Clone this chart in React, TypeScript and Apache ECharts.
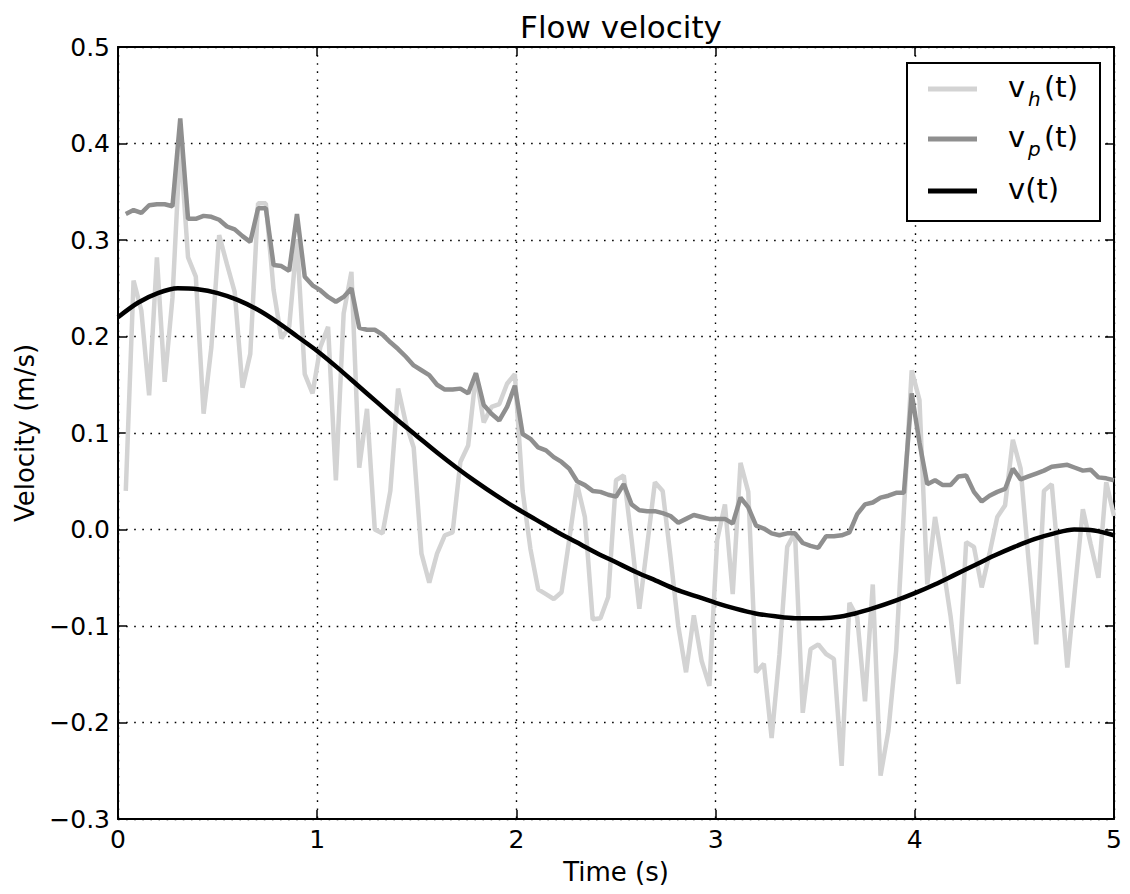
import React, { useEffect, useRef } from "react";
import * as echarts from "echarts";

// Sample times for the measured series: k * 5/128, k = 1..128
const N_SAMPLES = 128;
const T_END = 5;
const SAMPLE_T = Array.from({ length: N_SAMPLES }, (_, i) => ((i + 1) * T_END) / N_SAMPLES);

// v_h(t) – light gray, noisy
const VH = [
  0.040, 0.258, 0.227, 0.139, 0.282, 0.153, 0.24, 0.40, 0.282, 0.262,
  0.120, 0.189, 0.305, 0.275, 0.246, 0.147, 0.182, 0.338, 0.338, 0.248,
  0.198, 0.21, 0.30, 0.161, 0.141, 0.189, 0.21, 0.051, 0.224, 0.267,
  0.064, 0.125, 0.0, -0.004, 0.04, 0.146, 0.11, 0.085, -0.025, -0.055,
  -0.025, -0.006, -0.003, 0.070, 0.087, 0.161, 0.111, 0.127, 0.13, 0.151,
  0.161, 0.04, -0.02, -0.062, -0.067, -0.072, -0.065, -0.01, 0.047, 0.013,
  -0.093, -0.092, -0.07, 0.051, 0.056, -0.01, -0.082, -0.017, 0.049, 0.040,
  -0.028, -0.1, -0.148, -0.089, -0.136, -0.162, -0.011, 0.026, -0.067, 0.069,
  0.039, -0.148, -0.139, -0.216, -0.13, -0.018, -0.003, -0.19, -0.124, -0.119,
  -0.129, -0.134, -0.245, -0.076, -0.091, -0.178, -0.057, -0.255, -0.209, -0.126,
  0.02, 0.165, 0.134, -0.057, 0.013, -0.036, -0.09, -0.16, -0.013, -0.018,
  -0.06, -0.025, 0.013, 0.025, 0.093, 0.063, -0.03, -0.119, 0.040, 0.047,
  -0.045, -0.143, -0.06, 0.021, -0.015, -0.05, 0.049, 0.014,
];

// v_p(t) – mid gray
const VP = [
  0.327, 0.331, 0.328, 0.336, 0.337, 0.337, 0.335, 0.426, 0.322, 0.322,
  0.325, 0.324, 0.321, 0.314, 0.311, 0.304, 0.298, 0.333, 0.333, 0.274,
  0.273, 0.268, 0.327, 0.262, 0.253, 0.248, 0.241, 0.236, 0.241, 0.250,
  0.209, 0.207, 0.207, 0.202, 0.194, 0.187, 0.179, 0.170, 0.165, 0.160,
  0.150, 0.145, 0.145, 0.146, 0.141, 0.162, 0.129, 0.120, 0.113, 0.127,
  0.149, 0.099, 0.094, 0.085, 0.082, 0.075, 0.07, 0.063, 0.050, 0.046,
  0.040, 0.039, 0.036, 0.034, 0.047, 0.026, 0.020, 0.019, 0.019, 0.017,
  0.014, 0.007, 0.011, 0.015, 0.013, 0.011, 0.011, 0.011, 0.006, 0.033,
  0.023, 0.004, 0.001, -0.004, -0.006, -0.004, -0.004, -0.014, -0.017, -0.019,
  -0.007, -0.007, -0.006, -0.003, 0.016, 0.026, 0.028, 0.033, 0.035, 0.038,
  0.038, 0.141, 0.09, 0.047, 0.051, 0.046, 0.046, 0.055, 0.056, 0.039,
  0.029, 0.035, 0.039, 0.042, 0.063, 0.052, 0.055, 0.058, 0.061, 0.065,
  0.066, 0.067, 0.064, 0.061, 0.062, 0.054, 0.053, 0.051,
];

// v(t) – smooth black curve, read every 0.1 s
const V_T = [
  0, 0.1, 0.2, 0.3, 0.4, 0.5, 0.6, 0.7, 0.8, 0.9,
  1.0, 1.1, 1.2, 1.3, 1.4, 1.5, 1.6, 1.7, 1.8, 1.9,
  2.0, 2.1, 2.2, 2.3, 2.4, 2.5, 2.6, 2.7, 2.8, 2.9,
  3.0, 3.1, 3.2, 3.3, 3.4, 3.5, 3.6, 3.7, 3.8, 3.9,
  4.0, 4.1, 4.2, 4.3, 4.4, 4.5, 4.6, 4.7, 4.8, 4.9, 5.0,
];
const V = [
  0.22, 0.235, 0.245, 0.25, 0.249, 0.245, 0.238, 0.228, 0.215, 0.2,
  0.185, 0.168, 0.15, 0.132, 0.114, 0.097, 0.08, 0.064, 0.049, 0.035,
  0.022, 0.01, -0.002, -0.013, -0.024, -0.034, -0.044, -0.053, -0.062, -0.069,
  -0.076, -0.082, -0.087, -0.09, -0.092, -0.092, -0.091, -0.087, -0.081, -0.074,
  -0.066, -0.057, -0.047, -0.037, -0.027, -0.018, -0.01, -0.004, 0.0, -0.001, -0.006,
];

const SERIES_NAMES = ["v_h(t)", "v_p(t)", "v(t)"];
const SERIES_COLORS = ["#d3d3d3", "#8f8f8f", "#000000"];
// legend label pieces: base, subscript, tail
const LEGEND_BASE = ["v", "v", "v(t)"];
const LEGEND_SUB = ["h", "p", ""];
const LEGEND_TAIL = ["(t)", "(t)", ""];
const X_MIN = 0, X_MAX = 5, X_STEP = 1;
const Y_MIN = -0.3, Y_MAX = 0.5, Y_STEP = 0.1;

const FONT = "DejaVu Sans";

export default function App() {
  const ref = useRef<HTMLDivElement>(null);

  useEffect(() => {
    if (!ref.current) return;
    const chart = echarts.init(ref.current, null, { renderer: "svg" });

    const fmtY = (v: number) => {
      const r = Math.round(v * 10) / 10;
      return (r < 0 ? "\u2212" : "") + Math.abs(r).toFixed(1);
    };

    const gridLine = { show: true, lineStyle: { color: "#000", width: 1.4, type: [1.6, 6.5] as any } };
    const axisLine = { show: true, onZero: false, lineStyle: { color: "#000", width: 2 } };
    const tick = { show: true, inside: true, length: 9, lineStyle: { color: "#000", width: 1.5 } };

    // Legend drawn as graphic elements (box, line samples, labels with subscripts)
    const LEG_X = 907, LEG_Y = 63, LEG_W = 193, LEG_H = 158;
    const rowY = [89, 139, 191];
    const textX = 1008;
    const legendChildren: any[] = [
      {
        type: "rect",
        shape: { x: LEG_X, y: LEG_Y, width: LEG_W, height: LEG_H },
        style: { fill: "#fff", stroke: "#000", lineWidth: 2 },
        z: 100,
      },
    ];
    const mainStyle = { fontFamily: FONT, fontSize: 29, fill: "#000", verticalAlign: "middle", align: "left" };
    SERIES_NAMES.forEach((_, i) => {
      legendChildren.push({
        type: "line",
        shape: { x1: 928, y1: rowY[i], x2: 977, y2: rowY[i] },
        style: { stroke: SERIES_COLORS[i], lineWidth: 5 },
        z: 101,
      });
      legendChildren.push({
        type: "text",
        x: textX,
        y: rowY[i] - 2,
        style: { ...mainStyle, text: LEGEND_BASE[i] },
        z: 101,
      });
      if (LEGEND_SUB[i]) {
        legendChildren.push({
          type: "text",
          x: textX + 20,
          y: rowY[i] + 10,
          style: { fontFamily: FONT, fontSize: 20, fontStyle: "italic", fill: "#000", verticalAlign: "middle", align: "left", text: LEGEND_SUB[i] },
          z: 101,
        });
        legendChildren.push({
          type: "text",
          x: textX + 36,
          y: rowY[i] - 2,
          style: { ...mainStyle, text: LEGEND_TAIL[i] },
          z: 101,
        });
      }
    });

    chart.setOption({
      animation: false,
      backgroundColor: "#fff",
      title: {
        text: "Flow velocity",
        left: 616,
        textAlign: "center",
        top: 6,
        textStyle: { fontFamily: FONT, fontSize: 31, fontWeight: "normal", color: "#000" },
      },
      grid: { left: 118, top: 47, right: 16, bottom: 75, containLabel: false },
      graphic: { elements: [{ type: "group", children: legendChildren }] },
      xAxis: [
        {
          type: "value",
          min: X_MIN,
          max: X_MAX,
          interval: X_STEP,
          position: "bottom",
          name: "Time (s)",
          nameLocation: "middle",
          nameGap: 40,
          nameTextStyle: { fontFamily: FONT, fontSize: 26, color: "#000" },
          axisLine,
          axisTick: tick,
          axisLabel: { fontFamily: FONT, fontSize: 25, color: "#000", margin: 8 },
          splitLine: gridLine,
        },
        {
          type: "value",
          min: X_MIN,
          max: X_MAX,
          interval: X_STEP,
          position: "top",
          axisLine,
          axisTick: tick,
          axisLabel: { show: false },
          splitLine: { show: false },
        },
      ],
      yAxis: [
        {
          type: "value",
          min: Y_MIN,
          max: Y_MAX,
          interval: Y_STEP,
          position: "left",
          name: "Velocity (m/s)",
          nameLocation: "middle",
          nameGap: 72,
          nameTextStyle: { fontFamily: FONT, fontSize: 26, color: "#000" },
          axisLine,
          axisTick: tick,
          axisLabel: { fontFamily: FONT, fontSize: 25, color: "#000", margin: 8, formatter: fmtY },
          splitLine: gridLine,
        },
        {
          type: "value",
          min: Y_MIN,
          max: Y_MAX,
          interval: Y_STEP,
          position: "right",
          axisLine,
          axisTick: tick,
          axisLabel: { show: false },
          splitLine: { show: false },
        },
      ],
      series: [
        {
          name: SERIES_NAMES[0],
          type: "line",
          data: SAMPLE_T.map((t, i) => [t, VH[i]]),
          showSymbol: false,
          symbol: "none",
          color: SERIES_COLORS[0],
          lineStyle: { color: SERIES_COLORS[0], width: 4.5 },
          z: 2,
        },
        {
          name: SERIES_NAMES[1],
          type: "line",
          data: SAMPLE_T.map((t, i) => [t, VP[i]]),
          showSymbol: false,
          symbol: "none",
          color: SERIES_COLORS[1],
          lineStyle: { color: SERIES_COLORS[1], width: 4.5 },
          z: 3,
        },
        {
          name: SERIES_NAMES[2],
          type: "line",
          data: V_T.map((t, i) => [t, V[i]]),
          showSymbol: false,
          symbol: "none",
          smooth: 0.3,
          color: SERIES_COLORS[2],
          lineStyle: { color: SERIES_COLORS[2], width: 4.5 },
          z: 4,
        },
      ],
    });

    return () => chart.dispose();
  }, []);

  return (
    <div
      ref={ref}
      style={{ position: "fixed", left: 0, top: 0, width: 1130, height: 894, background: "#fff" }}
    />
  );
}
